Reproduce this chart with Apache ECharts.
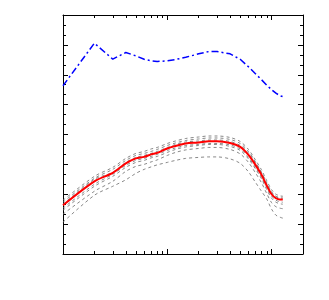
<!DOCTYPE html>
<html>
<head>
<meta charset="utf-8">
<script src="https://cdn.jsdelivr.net/npm/echarts@6/dist/echarts.min.js"></script>
<style>html,body{margin:0;padding:0;background:#fff}#c{width:329px;height:300px}</style>
</head>
<body>
<div id="c"></div>
<script>
// Frequencies (log x axis, 1..200)
var freqs = [1, 2, 3, 4, 5, 6, 7, 8, 10, 12, 15, 20, 25, 30, 40, 50, 60, 70, 80, 90, 100, 110, 120, 128];
// Upper blue dash-dot curve
var blueVals = [169, 211.7, 195.7, 202.3, 199, 195.5, 194, 193.3, 194, 195.3, 197.5, 201, 203.3, 203.3, 201, 195.5, 188, 181, 175, 169.5, 165, 161.5, 159, 158];
// Red mean curve
var redVals = [49, 73, 81.5, 91, 96, 97.5, 100, 101.5, 106, 108.5, 111, 112, 113.3, 113.3, 111.5, 107.5, 99.5, 89.5, 79.5, 68.5, 60, 56, 54.7, 54.7];
// Gray dashed individual curves
var gray1 = [52, 76, 85, 94, 99, 101, 103, 105, 109, 111.5, 114, 115.5, 116.5, 116.5, 115, 111, 103, 92.5, 82, 71.5, 62.5, 58, 57, 57];
var gray2 = [46, 70, 80, 89, 94, 96, 98, 100, 104, 106.5, 109, 110, 111, 111, 109.5, 105.5, 97, 87, 77, 66.5, 58, 54, 52.5, 52];
var gray3 = [50, 75, 82, 92, 97, 99, 101, 103, 107, 110, 112.5, 113.5, 114.5, 114.5, 113, 109, 101.5, 91.5, 81.5, 70, 61.5, 57.5, 56, 55.5];
var gray4 = [44, 68, 78, 87, 92, 94, 96.5, 98, 102, 105, 107.5, 109, 110, 110, 108, 104, 95.5, 85.5, 75.5, 64.5, 56, 52, 50.5, 50];
var gray5 = [54, 78, 87, 96, 101, 103, 105.5, 107, 111, 113.5, 116, 117.5, 118.5, 118.5, 117, 113, 105, 94.5, 84.5, 73.5, 64.5, 60, 58.5, 58];
var gray6 = [40, 63, 73, 83, 88, 90, 92.5, 94.5, 99, 102, 104.5, 106, 107, 107, 105, 100.5, 92, 81.5, 71.5, 60.5, 51.5, 47.5, 46, 45.5];
var gray7 = [32, 59, 68, 74.5, 81, 85, 87.5, 89.5, 92, 94, 96, 97, 97.5, 97.5, 95.5, 91, 82.5, 72, 63, 55, 45, 39, 37, 36];

// Tick positions on the log axis
var majorTicks = [1, 10, 100];
var minorTicks = [2, 3, 4, 5, 6, 7, 8, 9, 20, 30, 40, 50, 60, 70, 80, 90, 200];
var xMin = 1, xMax = 200;
var yMin = 0, yMax = 240, yStep = 30;

var lg = function (v) { return Math.log10(v); };
function pts(vals) { return freqs.map(function (f, i) { return [lg(f), vals[i]]; }); }

function xAxisDef(pos, ticks, len, showLine) {
  return {
    type: 'value', position: pos, min: lg(xMin), max: lg(xMax),
    axisLine: { show: showLine, onZero: false, lineStyle: { color: '#000', width: 1 } },
    axisTick: { show: true, inside: true, length: len, customValues: ticks.map(lg), lineStyle: { color: '#000', width: 1 } },
    axisLabel: { show: false },
    splitLine: { show: false }
  };
}
function yAxisDef(pos) {
  return {
    type: 'value', position: pos, min: yMin, max: yMax, interval: yStep,
    axisLine: { show: true, onZero: false, lineStyle: { color: '#000', width: 1 } },
    axisTick: { show: true, inside: true, length: 5, lineStyle: { color: '#000', width: 1 } },
    minorTick: { show: true, splitNumber: 3, length: 3, lineStyle: { color: '#000', width: 1 } },
    axisLabel: { show: false },
    splitLine: { show: false }
  };
}

var grays = [gray7, gray6, gray4, gray2, gray3, gray1, gray5];
var series = grays.map(function (g) {
  return {
    type: 'line', data: pts(g), showSymbol: false, symbol: 'none', animation: false, smooth: 0.3,
    lineStyle: { color: '#7a7a7a', width: 0.9, type: [3, 3] }, z: 2
  };
});
series.push({
  type: 'line', data: pts(redVals), symbol: 'none', animation: false, smooth: 0.3,
  lineStyle: { color: '#ff0000', width: 2 }, z: 3
});
series.push({
  type: 'line', data: pts(blueVals), symbol: 'none', animation: false,
  lineStyle: { color: '#0000ff', width: 1.5, type: [7, 3, 2, 3] }, z: 4
});

var chart = echarts.init(document.getElementById('c'), null, { renderer: 'canvas' });
chart.setOption({
  animation: false,
  backgroundColor: '#fff',
  grid: { left: 63, top: 15, right: 26, bottom: 46, containLabel: false },
  xAxis: [
    xAxisDef('bottom', majorTicks, 5, true),
    xAxisDef('bottom', minorTicks, 3, false),
    xAxisDef('top', majorTicks, 5, true),
    xAxisDef('top', minorTicks, 3, false)
  ],
  yAxis: [yAxisDef('left'), yAxisDef('right')],
  series: series
});
</script>
</body>
</html>
